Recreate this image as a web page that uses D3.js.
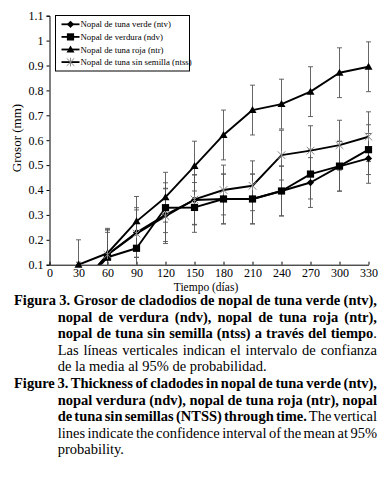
<!DOCTYPE html>
<html><head><meta charset="utf-8">
<script src="https://cdn.jsdelivr.net/npm/d3@7"></script>
<style>
html,body{margin:0;padding:0;background:#fff;}
svg{display:block;}
text{font-family:"Liberation Serif","Times New Roman",serif;fill:#000;}
</style></head>
<body>
<svg id="c" width="388" height="483"></svg>
<script>
// ---- data ----
const days = [30, 60, 90, 120, 150, 180, 210, 240, 270, 300, 330];
const ntv  = [0.01, 0.14, 0.229, 0.30, 0.36, 0.364, 0.364, 0.396, 0.43, 0.495, 0.527];
const ndv  = [0.00, 0.13, 0.166, 0.329, 0.33, 0.364, 0.364, 0.396, 0.464, 0.496, 0.562];
const ntr  = [0.10, 0.146, 0.274, 0.371, 0.496, 0.621, 0.721, 0.745, 0.795, 0.871, 0.895];
const ntss = [0.00, 0.14, 0.225, 0.295, 0.362, 0.40, 0.417, 0.54, 0.558, 0.58, 0.614];
const errNtv  = [0.1, 0.1, 0.1, 0.107, 0.1, 0.1, 0.1, 0.1, 0.1, 0.1, 0.1];
const errNdv  = [0.1, 0.1, 0.1, 0.1, 0.1, 0.1, 0.1, 0.1, 0.1, 0.1, 0.1];
const errNtr  = [0.1, 0.1, 0.1, 0.1, 0.1, 0.1, 0.1, 0.1, 0.1, 0.1, 0.1];
const errNtss = [0.1, 0.1, 0.095, 0.11, 0.1, 0.1, 0.1, 0.1, 0.1, 0.1, 0.1];
const seriesNames = ["Nopal de tuna verde (ntv)", "Nopal de verdura (ndv)", "Nopal de tuna roja (ntr)", "Nopal de tuna sin semilla (ntss)"];
const markerTypes = ["diamond", "square", "triangle", "star"];
const xTicks = [0, 30, 60, 90, 120, 150, 180, 210, 240, 270, 300, 330];
const yTicks = [0.1, 0.2, 0.3, 0.4, 0.5, 0.6, 0.7, 0.8, 0.9, 1.0, 1.1];
const xTitle = "Tiempo (días)";
const yTitle = "Grosor (mm)";

const series = [
  {name: seriesNames[0], vals: ntv,  err: errNtv,  m: markerTypes[0]},
  {name: seriesNames[1], vals: ndv,  err: errNdv,  m: markerTypes[1]},
  {name: seriesNames[2], vals: ntr,  err: errNtr,  m: markerTypes[2]},
  {name: seriesNames[3], vals: ntss, err: errNtss, m: markerTypes[3]}
];

const svg = d3.select("#c");
const L = 49.5, R = 368.5, T = 15.7, B = 264.7;
const x = d3.scaleLinear().domain([0, 330]).range([L, R]);
const y = d3.scaleLinear().domain([0.1, 1.1]).range([B, T]);

svg.append("defs").append("clipPath").attr("id", "pc")
  .append("rect").attr("x", L).attr("y", T - 5).attr("width", R - L + 10).attr("height", B - T + 5);

// axes
const yAx = svg.append("g").attr("transform", `translate(${L},0)`)
  .call(d3.axisLeft(y).tickValues(yTicks).tickSize(3).tickPadding(3).tickFormat(d => String(+d.toFixed(1))));
const xAx = svg.append("g").attr("transform", `translate(0,${B})`)
  .call(d3.axisBottom(x).tickValues(xTicks).tickSizeInner(-3).tickSizeOuter(0).tickPadding(4));
[yAx, xAx].forEach(g => {
  g.attr("font-family", null).attr("font-size", null);
  g.select(".domain").attr("stroke", "#000").attr("stroke-width", 1);
  g.selectAll(".tick line").attr("stroke", "#000");
  g.selectAll("text").attr("font-size", 12);
});
xAx.selectAll(".tick text").attr("dy", "0.68em");

svg.append("text").attr("x", 206).attr("y", 291).attr("text-anchor", "middle")
  .attr("font-size", 11.5).text(xTitle);
svg.append("text").attr("transform", "translate(21,138) rotate(-90)").attr("text-anchor", "middle")
  .attr("font-size", 13).text(yTitle);

// marker drawing
function marker(g, type, cx, cy) {
  if (type === "diamond") {
    const s = 3.6;
    g.append("path").attr("d", `M${cx},${cy - s}L${cx + s},${cy}L${cx},${cy + s}L${cx - s},${cy}Z`).attr("fill", "#000");
  } else if (type === "square") {
    g.append("rect").attr("x", cx - 3.6).attr("y", cy - 3.6).attr("width", 7.2).attr("height", 7.2).attr("fill", "#000");
  } else if (type === "triangle") {
    g.append("path").attr("d", `M${cx},${cy - 4}L${cx + 4},${cy + 3}L${cx - 4},${cy + 3}Z`).attr("fill", "#000");
  } else {
    const s = 3.8;
    g.append("path").attr("d", `M${cx - s},${cy - s}L${cx + s},${cy + s}M${cx - s},${cy + s}L${cx + s},${cy - s}M${cx},${cy - s - 0.5}L${cx},${cy + s + 0.5}`)
      .attr("stroke", "#888").attr("stroke-width", 1).attr("fill", "none");
  }
}

const clipG = svg.append("g").attr("clip-path", "url(#pc)");
// error bars
series.forEach(s => {
  s.vals.forEach((v, i) => {
    const lo = v - s.err[i], hi = v + s.err[i];
    const cx = x(days[i]);
    clipG.append("line").attr("x1", cx).attr("x2", cx).attr("y1", y(lo)).attr("y2", y(hi))
      .attr("stroke", "#555").attr("stroke-width", 0.9);
    [lo, hi].forEach(e => clipG.append("line").attr("x1", cx - 2.5).attr("x2", cx + 2.5)
      .attr("y1", y(e)).attr("y2", y(e)).attr("stroke", "#555").attr("stroke-width", 0.9));
  });
});
// lines
const line = d3.line().x((d, i) => x(days[i])).y(d => y(d));
series.forEach(s => {
  clipG.append("path").datum(s.vals).attr("d", line).attr("fill", "none")
    .attr("stroke", "#000").attr("stroke-width", 1.9).attr("stroke-linejoin", "round");
});
// markers
const mG = svg.append("g");
series.forEach(s => {
  s.vals.forEach((v, i) => { if (v >= 0.1) marker(mG, s.m, x(days[i]), y(v)); });
});

// legend
const lg = svg.append("g");
lg.append("rect").attr("x", 55.5).attr("y", 15.5).attr("width", 134).attr("height", 55.5)
  .attr("fill", "#fff").attr("stroke", "#000").attr("stroke-width", 1);
series.forEach((s, i) => {
  const yy = 24.3 + i * 12.6;
  lg.append("line").attr("x1", 61.5).attr("x2", 79.5).attr("y1", yy).attr("y2", yy)
    .attr("stroke", "#000").attr("stroke-width", 1.8);
  marker(lg, s.m, 70.5, yy);
  lg.append("text").attr("x", 80.5).attr("y", yy + 3).attr("font-size", 8.8).text(s.name);
});

// caption
const capLines = [
  {x: 14, y: 305, w: 363, parts: [["Figura 3. Grosor de cladodios de nopal de tuna verde (ntv),", 700]]},
  {x: 57.7, y: 321.5, w: 319.3, parts: [["nopal de verdura (ndv), nopal de tuna roja (ntr),", 700]]},
  {x: 57.7, y: 338, w: 319.3, parts: [["nopal de tuna sin semilla (ntss) a través del tiempo", 700], [".", 400]]},
  {x: 57.7, y: 354.5, w: 319.3, parts: [["Las líneas verticales indican el intervalo de confianza", 400]]},
  {x: 57.7, y: 371, w: null, parts: [["de la media al 95% de probabilidad.", 400]]},
  {x: 14, y: 388, w: 363, parts: [["Figure 3. Thickness of cladodes in nopal de tuna verde (ntv),", 700]]},
  {x: 57.7, y: 404.5, w: 319.3, parts: [["nopal verdura (ndv), nopal de tuna roja (ntr), nopal", 700]]},
  {x: 57.7, y: 421, w: 319.3, parts: [["de tuna sin semillas (NTSS) through time.", 700], [" The vertical", 400]]},
  {x: 57.7, y: 437.5, w: 319.3, parts: [["lines indicate the confidence interval of the mean at 95%", 400]]},
  {x: 57.7, y: 454, w: null, parts: [["probability.", 400]]}
];
capLines.forEach(cl => {
  const t = svg.append("text").attr("x", cl.x).attr("y", cl.y).attr("font-size", 14.5)
    .style("white-space", "pre");
  cl.parts.forEach(p => t.append("tspan").attr("font-weight", p[1]).text(p[0]));
  if (cl.w) {
    const nat = t.node().getComputedTextLength();
    const full = cl.parts.map(p => p[0]).join("");
    const spaces = (full.match(/ /g) || []).length;
    t.style("word-spacing", ((cl.w - nat) / spaces) + "px");
  }
});
</script>
</body></html>
